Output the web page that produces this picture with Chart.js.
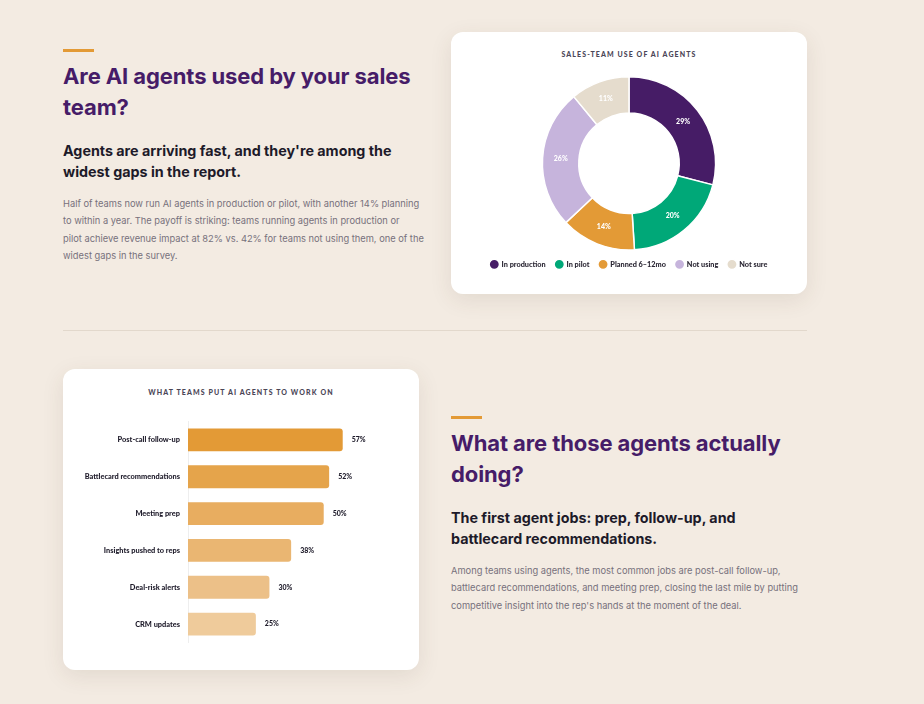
<!DOCTYPE html>
<html><head><meta charset="utf-8">
<script src="https://cdn.jsdelivr.net/npm/chart.js@4.4.1/dist/chart.umd.min.js"></script>
<style>
html,body{margin:0;padding:0;background:#f3ebe2;width:924px;height:704px;overflow:hidden;font-family:Inter,Lato,sans-serif;}
.abs{position:absolute;}
.accent{position:absolute;width:31px;height:3px;background:#e39a36;}
h2{margin:0;font-size:22px;line-height:31px;color:#461c68;font-weight:700;letter-spacing:-0.1px;}
h3{margin:0;font-size:14.3px;line-height:21px;color:#1d1a29;font-weight:700;}
p{margin:0;font-size:9.3px;line-height:17.4px;color:#77717c;}
.card{position:absolute;background:#fff;border-radius:12px;box-shadow:0 6px 22px rgba(80,60,40,0.10);}
.ctitle{position:absolute;left:0;right:0;text-align:center;font-family:Lato,sans-serif;font-size:7px;font-weight:900;letter-spacing:1.1px;color:#4b4657;}
.divider{position:absolute;left:63px;top:330px;width:744px;height:1px;background:#e2d8cc;}
</style></head>
<body>
<div class="accent" style="left:63px;top:49px"></div>
<div class="abs" style="left:63px;top:61px;width:358px">
<h2>Are AI agents used by your sales team?</h2>
<h3 style="margin-top:17px">Agents are arriving fast, and they're among the widest gaps in the report.</h3>
<p style="margin-top:13px;width:380px;white-space:nowrap">Half of teams now run AI agents in production or pilot, with another 14% planning<br>to within a year. The payoff is striking: teams running agents in production or<br>pilot achieve revenue impact at 82% vs. 42% for teams not using them, one of the<br>widest gaps in the survey.</p>
</div>

<div class="card" style="left:451px;top:32px;width:356px;height:262px">
<div class="ctitle" style="top:18px">SALES-TEAM USE OF AI AGENTS</div>
<canvas id="donut" class="abs" style="left:0;top:40px;width:356px;height:206px"></canvas>
</div>

<div class="divider"></div>

<div class="card" style="left:63px;top:369px;width:356px;height:301px">
<div class="ctitle" style="top:19px">WHAT TEAMS PUT AI AGENTS TO WORK ON</div>
<canvas id="bars" class="abs" style="left:0;top:40px;width:356px;height:246px"></canvas>
</div>

<div class="accent" style="left:451px;top:416px"></div>
<div class="abs" style="left:451px;top:428px;width:354px">
<h2>What are those agents actually doing?</h2>
<h3 style="margin-top:17px">The first agent jobs: prep, follow-up, and battlecard recommendations.</h3>
<p style="margin-top:13px">Among teams using agents, the most common jobs are post-call follow-up, battlecard recommendations, and meeting prep, closing the last mile by putting competitive insight into the rep's hands at the moment of the deal.</p>
</div>

<script>
// ---- data ----
const usageLabels = ["In production", "In pilot", "Planned 6–12mo", "Not using", "Not sure"];
const usageValues = [29, 20, 14, 26, 11];
const usageColors = ["#461c66", "#00a878", "#e39a36", "#c6b4dc", "#e5dccd"];

const jobLabels = ["Post-call follow-up", "Battlecard recommendations", "Meeting prep", "Insights pushed to reps", "Deal-risk alerts", "CRM updates"];
const jobValues = [57, 52, 50, 38, 30, 25];
const jobColors = ["#e39a36", "#e5a44b", "#e8ad60", "#eab672", "#ecc088", "#efcb9b"];

const FONT = "Lato, 'Open Sans', sans-serif";

const donutLabels = {
  id: 'donutLabels',
  afterDatasetsDraw(chart) {
    const ctx = chart.ctx;
    const meta = chart.getDatasetMeta(0);
    ctx.save();
    ctx.fillStyle = '#ffffff';
    ctx.font = "900 7px " + FONT;
    ctx.textAlign = 'center';
    ctx.textBaseline = 'middle';
    meta.data.forEach((arc, i) => {
      const p = arc.tooltipPosition(true);
      ctx.fillText(chart.data.datasets[0].data[i] + '%', p.x, p.y);
    });
    ctx.restore();
  }
};

new Chart(document.getElementById('donut'), {
  type: 'doughnut',
  data: { labels: usageLabels, datasets: [{ data: usageValues, backgroundColor: usageColors, borderColor: '#fff', borderWidth: 1.5, hoverOffset: 0 }] },
  options: {
    responsive: false, animation: false, cutout: '58%',
    layout: { padding: { top: 4, bottom: 0 } },
    plugins: {
      tooltip: { enabled: false },
      legend: { position: 'bottom', labels: { usePointStyle: true, pointStyle: 'circle', boxWidth: 9, boxHeight: 9, padding: 10, color: '#2a2633', font: { family: FONT, size: 7.3, weight: '900' } } }
    }
  },
  plugins: [donutLabels]
});

const barLabels = {
  id: 'barLabels',
  afterDatasetsDraw(chart) {
    const ctx = chart.ctx;
    const meta = chart.getDatasetMeta(0);
    ctx.save();
    ctx.fillStyle = '#1d1a29';
    ctx.font = "900 7px " + FONT;
    ctx.textAlign = 'left';
    ctx.textBaseline = 'middle';
    meta.data.forEach((bar, i) => {
      ctx.fillText(chart.data.datasets[0].data[i] + '%', bar.x + 9, bar.y);
    });
    ctx.restore();
  }
};

new Chart(document.getElementById('bars'), {
  type: 'bar',
  data: { labels: jobLabels, datasets: [{ data: jobValues, backgroundColor: jobColors, borderRadius: 3, borderSkipped: 'left', barPercentage: 0.62, categoryPercentage: 1 }] },
  options: {
    indexAxis: 'y', responsive: false, animation: false,
    layout: { padding: { top: 10, bottom: 11, right: 41, left: 0 } },
    scales: {
      x: { display: false, min: 0, max: 70 },
      y: {
        grid: { display: false, drawTicks: false }, border: { display: true, color: '#eeeeee' },
        ticks: { padding: 8, color: '#1d1a29', font: { family: FONT, size: 7.4, weight: '900' } },
        afterFit(scale) { scale.width = 125; }
      }
    },
    plugins: { legend: { display: false }, tooltip: { enabled: false } }
  },
  plugins: [barLabels]
});
</script>
</body></html>
